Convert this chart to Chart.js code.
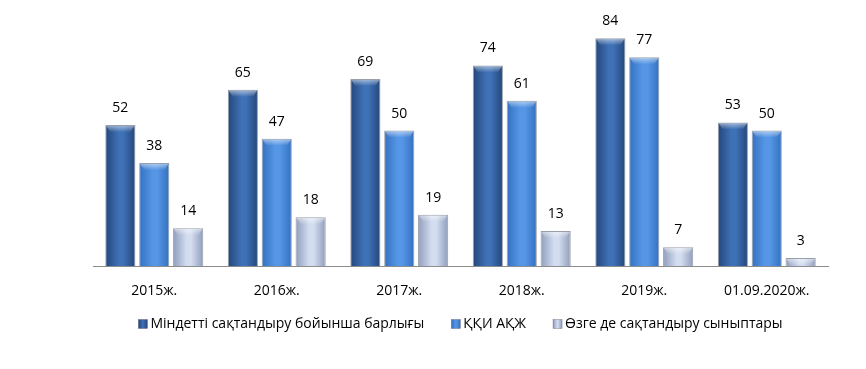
<!DOCTYPE html>
<html>
<head>
<meta charset="utf-8">
<script src="https://cdn.jsdelivr.net/npm/chart.js@4"></script>
<style>
  html, body { margin: 0; padding: 0; background: #fff; }
  #wrap { width: 866px; height: 369px; }
</style>
</head>
<body>
<div id="wrap"><canvas id="chart" width="866" height="369"></canvas></div>
<script>
// данные
const categorias = ["2015ж.", "2016ж.", "2017ж.", "2018ж.", "2019ж.", "01.09.2020ж."];
const nombresSeries = ["Міндетті сақтандыру бойынша барлығы", "ҚҚИ АҚЖ", "Өзге де сақтандыру сыныптары"];
const serieTotal = [52, 65, 69, 74, 84, 53];
const serieKki = [38, 47, 50, 61, 77, 50];
const serieOtros = [14, 18, 19, 13, 7, 3];

const CAT_PCT = 0.83;
const BAR_PCT = 0.89;
const FONT = "'Open Sans', 'Noto Sans', sans-serif";

// [borde, centro] de cada serie
const colores = [
  ["#23467a", "#3f71b6"],
  ["#3470c0", "#5597e6"],
  ["#8f9dbb", "#d3ddf0"],
];
const coloresSolidos = ["#2f5d9c", "#3f82d2", "#aebbd6"];

function gradienteBarra(ctx, dsIndex) {
  const chart = ctx.chart;
  const area = chart.chartArea;
  const x = chart.scales.x;
  if (!area || !x || ctx.dataIndex === undefined) return coloresSolidos[dsIndex];
  const catW = area.width / categorias.length;
  const grupo = catW * CAT_PCT;
  const slot = grupo / 3;
  const centro = x.getPixelForValue(ctx.dataIndex) - grupo / 2 + slot * (dsIndex + 0.5);
  const ancho = slot * BAR_PCT;
  const g = chart.ctx.createLinearGradient(centro - ancho / 2, 0, centro + ancho / 2, 0);
  g.addColorStop(0, colores[dsIndex][0]);
  g.addColorStop(0.45, colores[dsIndex][1]);
  g.addColorStop(0.6, colores[dsIndex][1]);
  g.addColorStop(1, colores[dsIndex][0]);
  return g;
}

// etiquetas de valor encima de cada barra
const etiquetasValor = {
  id: "etiquetasValor",
  afterDatasetsDraw(chart) {
    const ctx = chart.ctx;
    ctx.save();
    ctx.font = "14px " + FONT;
    ctx.fillStyle = "#000";
    ctx.textAlign = "center";
    ctx.textBaseline = "bottom";
    chart.data.datasets.forEach((ds, i) => {
      chart.getDatasetMeta(i).data.forEach((bar, j) => {
        ctx.fillText(ds.data[j], bar.x, bar.y - 10);
      });
    });
    ctx.restore();
  },
};

// brillo superior de las barras
const biselSuperior = {
  id: "biselSuperior",
  afterDatasetsDraw(chart) {
    const ctx = chart.ctx;
    ctx.save();
    chart.data.datasets.forEach((ds, i) => {
      chart.getDatasetMeta(i).data.forEach((bar) => {
        const w = bar.width;
        const g = ctx.createLinearGradient(0, bar.y, 0, bar.y + 7);
        g.addColorStop(0, "rgba(255,255,255,0.55)");
        g.addColorStop(1, "rgba(255,255,255,0)");
        ctx.fillStyle = g;
        ctx.beginPath();
        ctx.moveTo(bar.x - w / 2 + 1, bar.y + 1);
        ctx.lineTo(bar.x + w / 2 - 1, bar.y + 1);
        ctx.lineTo(bar.x + w / 2 - 5, bar.y + 7);
        ctx.lineTo(bar.x - w / 2 + 5, bar.y + 7);
        ctx.closePath();
        ctx.fill();
      });
    });
    ctx.restore();
  },
};

// leyenda abajo, dibujada a mano para controlar los espacios
const leyenda = {
  id: "leyenda",
  afterDraw(chart) {
    const ctx = chart.ctx;
    const area = chart.chartArea;
    const caja = 9, hueco = 3, separacion = 27;
    ctx.save();
    ctx.font = "14px " + FONT;
    ctx.textBaseline = "middle";
    ctx.textAlign = "left";
    const anchos = nombresSeries.map((n) => caja + hueco + ctx.measureText(n).width);
    const total = anchos.reduce((a, b) => a + b, 0) + separacion * (anchos.length - 1);
    let x = (area.left + area.right) / 2 - total / 2;
    const y = chart.height - 45;
    nombresSeries.forEach((n, i) => {
      const g = ctx.createLinearGradient(x, 0, x + caja, 0);
      g.addColorStop(0, colores[i][0]);
      g.addColorStop(0.5, colores[i][1]);
      g.addColorStop(1, colores[i][0]);
      ctx.fillStyle = g;
      ctx.fillRect(x, y - caja / 2, caja, caja);
      ctx.strokeStyle = "rgba(60,60,80,0.6)";
      ctx.lineWidth = 0.5;
      ctx.strokeRect(x, y - caja / 2, caja, caja);
      ctx.fillStyle = "#000";
      ctx.fillText(n, x + caja + hueco, y);
      x += anchos[i] + separacion;
    });
    ctx.restore();
  },
};

const series = [serieTotal, serieKki, serieOtros];

const chart = new Chart(document.getElementById("chart"), {
  type: "bar",
  data: {
    labels: categorias,
    datasets: series.map((valores, i) => ({
      label: nombresSeries[i],
      data: valores,
      backgroundColor: (ctx) => gradienteBarra(ctx, i),
      borderColor: "rgba(70,80,100,0.55)",
      borderWidth: 1,
      borderSkipped: "bottom",
      categoryPercentage: CAT_PCT,
      barPercentage: BAR_PCT,
    })),
  },
  options: {
    responsive: false,
    animation: false,
    layout: { padding: { left: 93, right: 38, top: 22, bottom: 54 } },
    scales: {
      x: {
        grid: { display: false, drawTicks: false },
        border: { display: true, color: "#8c8c8c", width: 1 },
        ticks: { color: "#000", font: { size: 14, family: FONT }, padding: 16 },
      },
      y: { display: false, min: 0, max: 90 },
    },
    plugins: {
      title: { display: false },
      tooltip: { enabled: false },
      legend: { display: false },
    },
  },
  plugins: [etiquetasValor, biselSuperior, leyenda],
});
chart.update();
</script>
</body>
</html>
